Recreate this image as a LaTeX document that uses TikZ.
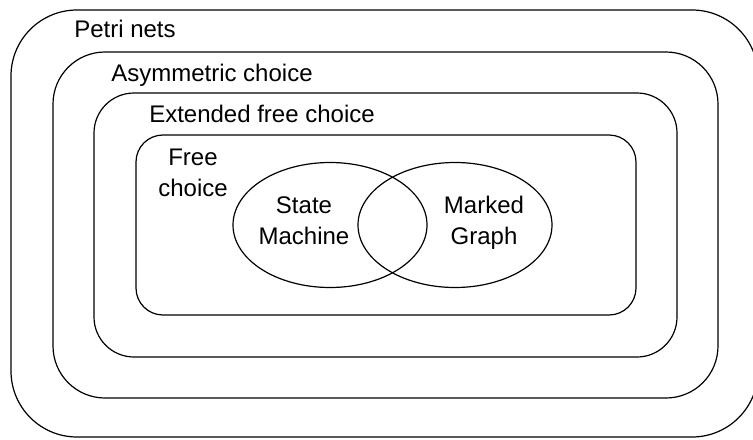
\documentclass[tikz,border=0pt]{standalone}
\usepackage{fontspec}
\setmainfont{Liberation Sans}
\usetikzlibrary{shapes.geometric}

\begin{document}
\begin{tikzpicture}[x=0.75pt,y=-0.75pt,
    netclass/.style ={draw, line width=0.9pt, inner sep=0pt},
    subclass/.style ={ellipse, draw, line width=0.9pt, inner sep=0pt,
      minimum width=145.5pt, minimum height=93.75pt},
    classname/.style ={inner sep=0pt, align=center,
      font=\fontsize{18}{23}\selectfont}]
   \useasboundingbox (0,0) rectangle (753,439);
   % nested classes, outermost first
   \node[netclass, rounded corners=49.5pt, minimum width=560.25pt,
     minimum height=320.25pt] (petri) at (384.5,223.5) {};
   \node[netclass, rounded corners=39pt, minimum width=498.75pt,
     minimum height=259.5pt] (asym) at (385.5,225) {};
   \node[netclass, rounded corners=30pt, minimum width=437.25pt,
     minimum height=198pt] (efc) at (385.5,225) {};
   \node[netclass, rounded corners=20.25pt, minimum width=375pt,
     minimum height=135pt] (fc) at (386,225) {};
   % the two overlapping subclasses
   \node[subclass] (sm) at (330,225) {};
   \node[subclass] (mg) at (455,225) {};
   % labels (two-line ones sit on their last baseline)
   \node[classname, anchor=base west] (petrilabel) at (74,37) {Petri nets};
   \node[classname, anchor=base west] (asymlabel) at (111,81) {Asymmetric choice};
   \node[classname, anchor=base west] (efclabel) at (149,122) {Extended free choice};
   \node[classname, anchor=base] (fclabel) at (193,196) {Free\\choice};
   \node[classname, anchor=base] (smlabel) at (304,244) {State\\Machine};
   \node[classname, anchor=base] (mglabel) at (484,244) {Marked\\Graph};
 \end{tikzpicture}
\end{document}
